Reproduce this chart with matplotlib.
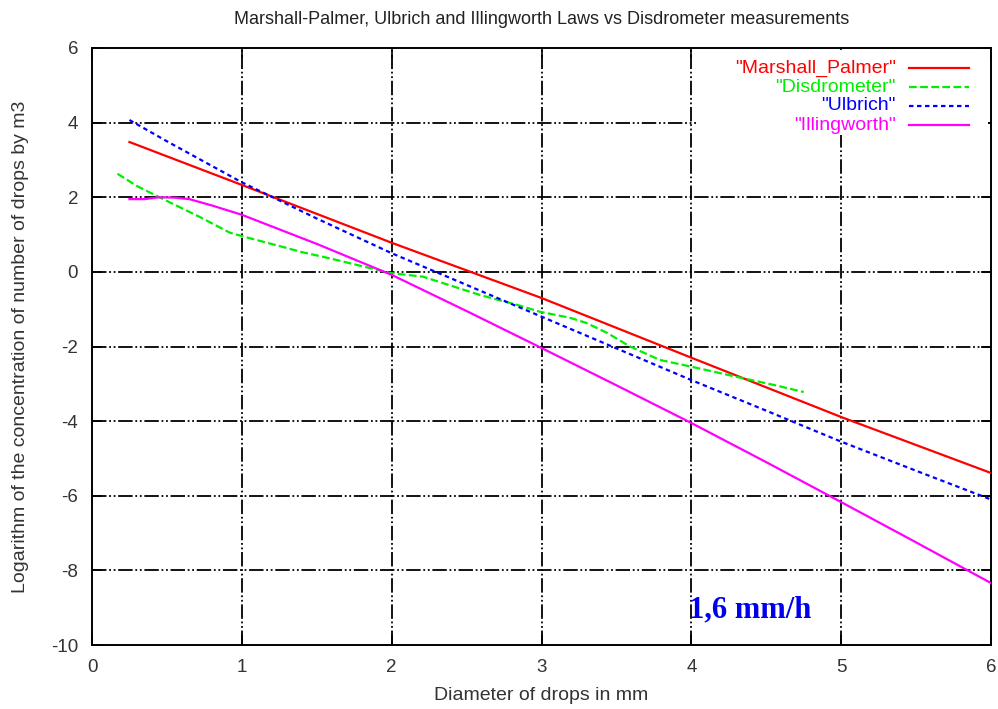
import matplotlib
matplotlib.use("Agg")
import matplotlib.pyplot as plt
from matplotlib.patches import Rectangle

# Drop size distributions at R = 1.6 mm/h: log10 of N(D) [m^-3 mm^-1]
mp_d = [0.25, 1.0, 2.0, 3.0, 4.0, 5.0, 6.0]
mp_log = [3.48, 2.33, 0.78, -0.70, -2.30, -3.89, -5.39]

dis_d = [0.17, 0.3, 0.47, 0.72, 0.92, 0.99, 1.3, 1.39, 1.6, 1.99, 2.21, 2.59,
         2.86, 2.99, 3.19, 3.3, 3.44, 3.59, 3.79, 4.01, 4.31, 4.55, 4.75]
dis_log = [2.63, 2.3, 1.96, 1.47, 1.05, 0.97, 0.64, 0.54, 0.35, -0.03, -0.13, -0.62,
           -0.91, -1.07, -1.23, -1.37, -1.64, -2.0, -2.36, -2.55, -2.82, -3.03, -3.22]

ulb_d = [0.25, 0.5, 1.0, 1.5, 2.0, 2.5, 3.0, 3.5, 4.0, 4.5, 5.0, 5.5, 6.0]
ulb_log = [4.07, 3.5, 2.4, 1.43, 0.5, -0.35, -1.2, -2.05, -2.9, -3.72, -4.55, -5.33, -6.1]

ill_d = [0.25, 0.35, 0.45, 0.55, 0.65, 0.8, 1.0, 1.5, 2.0, 2.5, 3.0, 3.5,
         4.0, 4.5, 5.0, 5.5, 6.0]
ill_log = [1.95, 1.95, 2.0, 1.99, 1.95, 1.78, 1.53, 0.75, -0.08, -1.05, -2.04,
           -3.04, -4.05, -5.1, -6.17, -7.25, -8.34]

x_ticks = [0, 1, 2, 3, 4, 5, 6]
y_ticks = [-10, -8, -6, -4, -2, 0, 2, 4, 6]

series = [
    ('"Marshall_Palmer"', mp_d, mp_log, "#ff0000", "-"),
    ('"Disdrometer"', dis_d, dis_log, "#00ee00", (0, (3.5, 1.5))),
    ('"Ulbrich"', ulb_d, ulb_log, "#0000ff", (0, (2, 1.6))),
    ('"Illingworth"', ill_d, ill_log, "#ff00ff", "-"),
]

plt.rcParams["font.family"] = ["Liberation Sans", "DejaVu Sans"]
plt.rcParams["axes.unicode_minus"] = False

fig = plt.figure(figsize=(9.98, 7.09), dpi=100)
ax = fig.add_axes([92 / 998, 1 - 645 / 709, (991 - 92) / 998, (645 - 48) / 709])

ax.set_xlim(0, 6)
ax.set_ylim(-10, 6)
ax.set_xticks(x_ticks)
ax.set_yticks(y_ticks)
ax.tick_params(direction="in", length=7, width=1.2, top=True, right=True,
               labelsize=13.5, labelcolor="#333333")
ax.tick_params(axis="x", pad=10)
ax.tick_params(axis="y", pad=10)

# gnuplot-style dash-dot-dot grid
grid_ls = (0, (8, 1.5, 1, 1.5, 1, 1.5))
for gx in x_ticks[1:-1]:
    ax.axvline(gx, color="black", lw=1.3, ls=grid_ls, zorder=1)
for gy in y_ticks[1:-1]:
    ax.axhline(gy, color="black", lw=1.3, ls=grid_ls, zorder=1)

for spine in ax.spines.values():
    spine.set_linewidth(1.4)

for label, xs, ys, color, ls in series:
    ax.plot(xs, ys, color=color, lw=1.6, ls=ls, zorder=3)

# Key in the upper right corner: blank box over the grid, right-aligned labels
key_left = (696 - 92) / (991 - 92)
key_bottom = 1 - (135 - 48) / (645 - 48)
ax.add_patch(Rectangle((key_left, key_bottom), 0.997 - key_left, 0.997 - key_bottom,
                       transform=ax.transAxes, facecolor="white", edgecolor="none",
                       zorder=2))
key_y0 = 1 - (68 - 48) / (645 - 48)
key_dy = 19.0 / (645 - 48)
for i, (label, xs, ys, color, ls) in enumerate(series):
    yk = key_y0 - i * key_dy
    ax.text(0.894, yk, label, color=color, ha="right", va="center",
            fontsize=14, transform=ax.transAxes, zorder=4)
    ax.plot([0.909, 0.976], [yk, yk], color=color, lw=1.6, ls=ls,
            transform=ax.transAxes, clip_on=False, zorder=4)

ax.text(4.39, -9.25, "1,6 mm/h", color="#0000ee", fontsize=22,
        fontweight="bold", family="Liberation Serif", ha="center",
        va="baseline", zorder=4)

ax.set_title("Marshall-Palmer, Ulbrich and Illingworth Laws vs Disdrometer measurements",
             fontsize=13, color="#222222", pad=17)
ax.set_xlabel("Diameter of drops in mm", fontsize=14, color="#333333", labelpad=8)
ax.set_ylabel("Logarithm of the concentration of number of drops by m3",
              fontsize=14, color="#333333")
ax.yaxis.set_label_coords(-(92 - 29) / (991 - 92), 0.5)

fig.savefig("out.png", dpi=100)
